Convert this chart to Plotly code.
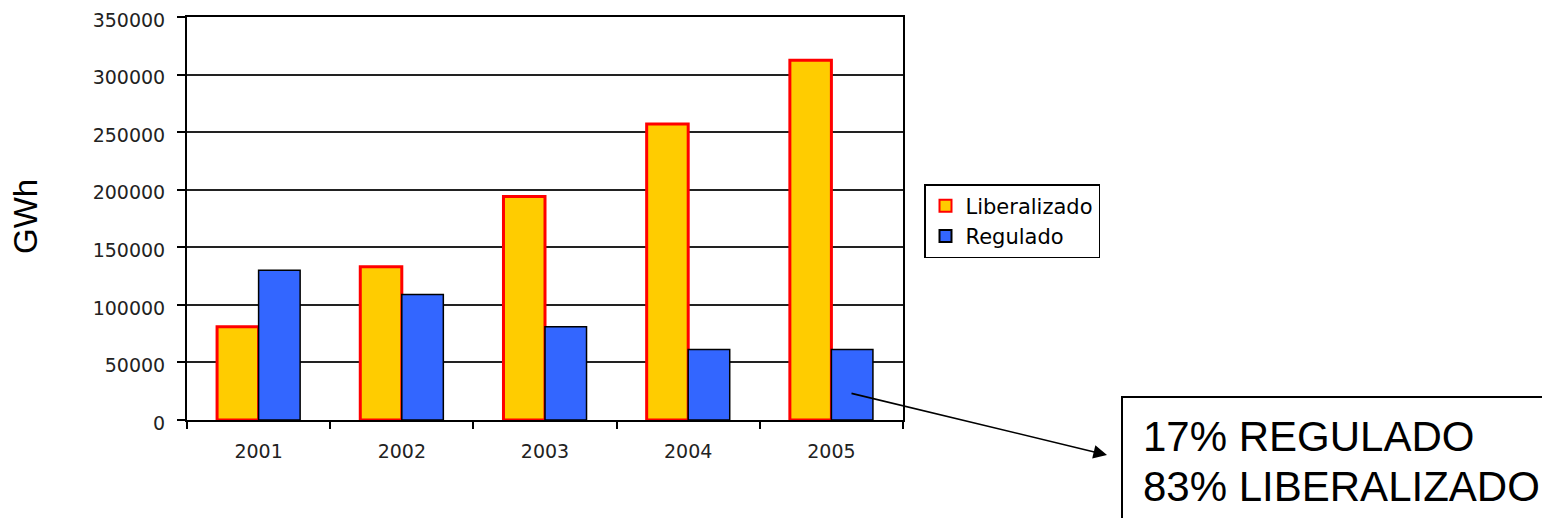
import plotly.graph_objects as go

years = ["2001", "2002", "2003", "2004", "2005"]
liberalizado = [81000, 133000, 194000, 257000, 312500]
regulado = [130000, 109000, 81000, 61300, 61300]
y_ticks = [0, 50000, 100000, 150000, 200000, 250000, 300000, 350000]

# page offset from the default HTML body margin
OFF = 8
W, H = 1550 - OFF, 518 - OFF
# plot area edges in screen pixels
L, R, T, B = 187, 903, 17, 420

def px(x):
    return (x - L) / (R - L)

def py(y):
    return (B - y) / (B - T)

fig = go.Figure()
fig.add_trace(go.Bar(
    x=years, y=liberalizado, name="Liberalizado",
    marker=dict(color="#FFCC00", line=dict(color="#FF0000", width=3)),
))
fig.add_trace(go.Bar(
    x=years, y=regulado, name="Regulado",
    marker=dict(color="#3366FF", line=dict(color="#000000", width=1.5)),
))

tickfont = dict(family="DejaVu Sans", size=19, color="#222")

fig.update_layout(
    width=W, height=H, autosize=False,
    margin=dict(l=L - OFF, r=W - (R - OFF), t=T - OFF, b=H - (B - OFF), pad=0),
    paper_bgcolor="white", plot_bgcolor="white",
    barmode="group", bargap=0.42, bargroupgap=0,
    showlegend=True,
    legend=dict(
        x=px(924), y=py(184), xanchor="left", yanchor="top",
        bordercolor="black", borderwidth=1.5,
        font=dict(family="DejaVu Sans", size=21, color="black"),
        tracegroupgap=0, itemsizing="constant",
    ),
    xaxis=dict(
        showline=True, linecolor="black", linewidth=2, mirror=True,
        ticks="outside", tickson="boundaries", ticklen=7, tickcolor="black", tickwidth=2,
        tickfont=tickfont, ticklabelstandoff=13, showgrid=False, automargin=False,
    ),
    yaxis=dict(
        range=[0, 350000], tickvals=y_ticks, tickformat="d",
        showline=True, linecolor="black", linewidth=2, mirror=True,
        ticks="outside", ticklen=8, tickcolor="black", tickwidth=2,
        showgrid=True, gridcolor="#222", gridwidth=1.5,
        tickfont=tickfont, ticklabelstandoff=8, zeroline=False, automargin=False,
        ticklabeloverflow="allow", ticklabelshift=3,
    ),
)

# y-axis title
fig.add_annotation(
    text="GWh", x=px(25), y=py(217), xref="paper", yref="paper",
    textangle=-90, showarrow=False,
    font=dict(family="Liberation Sans", size=33, color="black"),
    xanchor="center", yanchor="middle",
)

# callout arrow
fig.add_annotation(
    x=px(1107), y=py(455), xref="paper", yref="paper",
    ax=850 - 1107, ay=393 - 455, axref="pixel", ayref="pixel",
    showarrow=True, arrowhead=2, arrowsize=1.7, arrowwidth=1.6,
    arrowcolor="black", text="",
)

# callout box
fig.add_shape(
    type="rect", xref="paper", yref="paper",
    x0=px(1122), x1=px(1600), y0=py(397), y1=py(560),
    line=dict(color="black", width=2), fillcolor="white",
)
fig.add_annotation(
    text="17% REGULADO", x=px(1141), y=py(436), xref="paper", yref="paper",
    showarrow=False, xanchor="left", yanchor="middle",
    font=dict(family="Liberation Sans", size=42, color="black"),
)
fig.add_annotation(
    text="83% LIBERALIZADO", x=px(1141), y=py(486), xref="paper", yref="paper",
    showarrow=False, xanchor="left", yanchor="middle",
    font=dict(family="Liberation Sans", size=42, color="black"),
)

fig.write_html("out.html")
